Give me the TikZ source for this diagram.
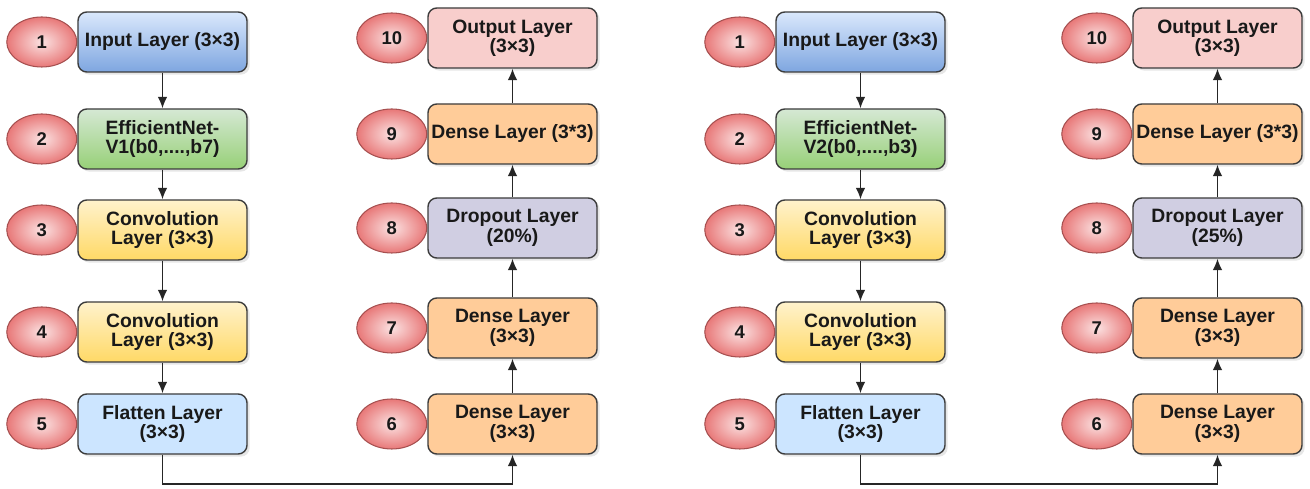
\documentclass[tikz,border=0pt]{standalone}
\usepackage{fontspec}
\setmainfont{Liberation Sans}
\usetikzlibrary{positioning,shadows,arrows.meta,shapes.geometric}

\definecolor{edge}{HTML}{3C3C3C}
\definecolor{inTop}{HTML}{DAE8FC}
\definecolor{inBot}{HTML}{7EA6E0}
\definecolor{effTop}{HTML}{D5E8D4}
\definecolor{effBot}{HTML}{97D077}
\definecolor{convTop}{HTML}{FFF2CC}
\definecolor{convBot}{HTML}{FFD966}
\definecolor{flatFill}{HTML}{CCE5FF}
\definecolor{denseFill}{HTML}{FFCC99}
\definecolor{dropFill}{HTML}{D0CEE2}
\definecolor{outFill}{HTML}{F8CECC}
\definecolor{numIn}{HTML}{FBE2E2}
\definecolor{numOut}{HTML}{E87878}
\definecolor{numEdge}{HTML}{A65050}

\tikzstyle{layer} = [align=center, draw=edge, line width=0.8pt, rectangle, rounded corners=5pt, minimum height=1.2cm, minimum width=3.38cm, inner sep=1pt, font=\fontsize{11}{11}\selectfont\bfseries, text=black!90, drop shadow={opacity=0.2, shadow xshift=1.5pt, shadow yshift=-1.5pt}]
\tikzstyle{num} = [ellipse, draw=numEdge, line width=0.6pt, minimum width=1.4cm, minimum height=1cm, inner color=numIn, outer color=numOut, font=\fontsize{10.5}{12}\selectfont\bfseries, text=black!90]
\tikzstyle{conn} = [->, draw=black!85, line width=0.85pt]

\begin{document}
\begin{tikzpicture}[x=0.2mm,y=-0.2mm,>={Latex[length=6.5pt,width=5.5pt]}]
            \useasboundingbox (0,0) rectangle (1310,489);
            %
            % Left chain: EfficientNet-V1, blocks first
            \node [layer, top color=inTop, bottom color=inBot] (inA) at (162.5,42) {Input Layer (3×3)};
            \node [layer, top color=effTop, bottom color=effBot] (effA) at (162.5,139) {EfficientNet-\\V1(b0,....,b7)};
            \node [layer, top color=convTop, bottom color=convBot] (convA) at (162.5,230) {Convolution\\Layer (3×3)};
            \node [layer, top color=convTop, bottom color=convBot] (convbA) at (162.5,332) {Convolution\\Layer (3×3)};
            \node [layer, fill=flatFill] (flatA) at (162.5,424) {Flatten Layer\\(3×3)};
            \node [layer, fill=denseFill] (denseA) at (512.5,424) {Dense Layer\\(3×3)};
            \node [layer, fill=denseFill] (densebA) at (512.5,328) {Dense Layer\\(3×3)};
            \node [layer, fill=dropFill] (dropA) at (512.5,228) {Dropout Layer\\(20\%)};
            \node [layer, fill=denseFill] (densecA) at (512.5,134) {Dense Layer (3*3)};
            \node [layer, fill=outFill] (outA) at (512.5,38) {Output Layer\\(3×3)};
            % Step numbers sit on the left of each block
            \node [num, left=0pt of inA] (nA1) {1};
            \node [num, left=0pt of effA] (nA2) {2};
            \node [num, left=0pt of convA] (nA3) {3};
            \node [num, left=0pt of convbA] (nA4) {4};
            \node [num, left=0pt of flatA] (nA5) {5};
            \node [num, left=0pt of denseA] (nA6) {6};
            \node [num, left=0pt of densebA] (nA7) {7};
            \node [num, left=0pt of dropA] (nA8) {8};
            \node [num, left=0pt of densecA] (nA9) {9};
            \node [num, left=0pt of outA] (nA10) {10};
            % Connectors
            \draw [conn] (inA) -- (effA);
            \draw [conn] (effA) -- (convA);
            \draw [conn] (convA) -- (convbA);
            \draw [conn] (convbA) -- (flatA);
            \draw [conn] (flatA.south) -- (flatA.south |- 0,484) -| (denseA.south);
            \draw [conn] (denseA) -- (densebA);
            \draw [conn] (densebA) -- (dropA);
            \draw [conn] (dropA) -- (densecA);
            \draw [conn] (densecA) -- (outA);
            %
            % Right chain: EfficientNet-V2
            \node [layer, top color=inTop, bottom color=inBot] (inB) at (860.5,42) {Input Layer (3×3)};
            \node [layer, top color=effTop, bottom color=effBot] (effB) at (860.5,139) {EfficientNet-\\V2(b0,....,b3)};
            \node [layer, top color=convTop, bottom color=convBot] (convB) at (860.5,230) {Convolution\\Layer (3×3)};
            \node [layer, top color=convTop, bottom color=convBot] (convbB) at (860.5,332) {Convolution\\Layer (3×3)};
            \node [layer, fill=flatFill] (flatB) at (860.5,424) {Flatten Layer\\(3×3)};
            \node [layer, fill=denseFill] (denseB) at (1217.5,424) {Dense Layer\\(3×3)};
            \node [layer, fill=denseFill] (densebB) at (1217.5,328) {Dense Layer\\(3×3)};
            \node [layer, fill=dropFill] (dropB) at (1217.5,228) {Dropout Layer\\(25\%)};
            \node [layer, fill=denseFill] (densecB) at (1217.5,134) {Dense Layer (3*3)};
            \node [layer, fill=outFill] (outB) at (1217.5,38) {Output Layer\\(3×3)};
            \node [num, left=0pt of inB] (nB1) {1};
            \node [num, left=0pt of effB] (nB2) {2};
            \node [num, left=0pt of convB] (nB3) {3};
            \node [num, left=0pt of convbB] (nB4) {4};
            \node [num, left=0pt of flatB] (nB5) {5};
            \node [num, left=0pt of denseB] (nB6) {6};
            \node [num, left=0pt of densebB] (nB7) {7};
            \node [num, left=0pt of dropB] (nB8) {8};
            \node [num, left=0pt of densecB] (nB9) {9};
            \node [num, left=0pt of outB] (nB10) {10};
            \draw [conn] (inB) -- (effB);
            \draw [conn] (effB) -- (convB);
            \draw [conn] (convB) -- (convbB);
            \draw [conn] (convbB) -- (flatB);
            \draw [conn] (flatB.south) -- (flatB.south |- 0,484) -| (denseB.south);
            \draw [conn] (denseB) -- (densebB);
            \draw [conn] (densebB) -- (dropB);
            \draw [conn] (dropB) -- (densecB);
            \draw [conn] (densecB) -- (outB);
            %
        \end{tikzpicture}
\end{document}
